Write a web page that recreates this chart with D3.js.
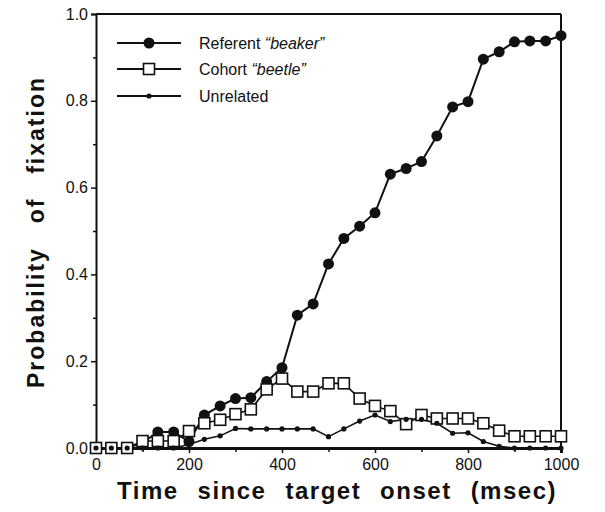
<!DOCTYPE html>
<meta charset="utf-8">
<title>Probability of fixation</title>
<style>
  body { margin: 0; background: #fff; }
  svg text { font-family: "Liberation Sans", Arial, sans-serif; fill: #111; }
</style>
<body>
<script src="https://d3js.org/d3.v7.min.js"></script>
<script>
// time since target onset (msec), one sample per video frame
var times = [0, 33, 67, 100, 133, 167, 200, 233, 267, 300, 333, 367, 400, 433, 467, 500,
             533, 567, 600, 633, 667, 700, 733, 767, 800, 833, 867, 900, 933, 967, 1000];

var referent = [0, 0, 0, 0.012, 0.037, 0.037, 0.015, 0.076, 0.097, 0.114, 0.116, 0.153, 0.185,
                0.306, 0.332, 0.424, 0.483, 0.511, 0.542, 0.631, 0.644, 0.66, 0.719, 0.786,
                0.798, 0.896, 0.913, 0.936, 0.938, 0.938, 0.95];

var cohort = [0, 0, 0, 0.016, 0.016, 0.016, 0.039, 0.057, 0.065, 0.078, 0.089, 0.135, 0.16,
              0.13, 0.13, 0.149, 0.149, 0.114, 0.097, 0.085, 0.055, 0.076, 0.068, 0.068,
              0.068, 0.057, 0.04, 0.027, 0.027, 0.027, 0.027];

var unrelated = [0, 0, 0, 0, 0, 0, 0.008, 0.02, 0.028, 0.045, 0.044, 0.044, 0.044, 0.044,
                 0.044, 0.026, 0.044, 0.062, 0.076, 0.061, 0.066, 0.066, 0.057, 0.034,
                 0.035, 0.015, 0.004, 0, 0, 0, 0];

var xTicks = [0, 200, 400, 600, 800, 1000];
var xMinor = [100, 300, 500, 700, 900];
var yTicks = [0, 0.2, 0.4, 0.6, 0.8, 1.0];
var yMinor = [0.1, 0.3, 0.5, 0.7, 0.9];

var legendNames = ["Referent ", "Cohort ", "Unrelated"];
var legendWords = ["\u201Cbeaker\u201D", "\u201Cbeetle\u201D", ""];

var width = 605, height = 512;
var svg = d3.select("body").append("svg")
    .attr("width", width)
    .attr("height", height);

var x = d3.scaleLinear().domain([0, 1000]).range([96, 561]);
var y = d3.scaleLinear().domain([0, 1]).range([448, 14]);

// frame: top and right
svg.append("line").attr("x1", x(0)).attr("x2", x(1000)).attr("y1", y(1)).attr("y2", y(1))
    .attr("stroke", "#111").attr("stroke-width", 2);
svg.append("line").attr("x1", x(1000)).attr("x2", x(1000)).attr("y1", y(1)).attr("y2", y(0))
    .attr("stroke", "#111").attr("stroke-width", 2);

// axes
var xAxis = svg.append("g").attr("transform", "translate(0," + y(0) + ")")
    .call(d3.axisBottom(x).tickValues(xTicks).tickSize(5).tickPadding(4).tickFormat(d3.format("d")));
svg.append("g").attr("transform", "translate(0," + y(0) + ")")
    .call(d3.axisBottom(x).tickValues(xMinor).tickSize(4).tickFormat(""))
    .call(function(g) { g.select(".domain").remove(); });

var yAxis = svg.append("g").attr("transform", "translate(" + x(0) + ",0)")
    .call(d3.axisLeft(y).tickValues(yTicks).tickSize(5).tickPadding(3).tickFormat(d3.format(".1f")));
svg.append("g").attr("transform", "translate(" + x(0) + ",0)")
    .call(d3.axisLeft(y).tickValues(yMinor).tickSize(3).tickFormat(""))
    .call(function(g) { g.select(".domain").remove(); });

svg.selectAll(".domain").attr("stroke", "#111");
svg.selectAll(".tick line").attr("stroke", "#111").attr("stroke-width", 1.5);
xAxis.select(".domain").attr("stroke-width", 3);
yAxis.select(".domain").attr("stroke-width", 2);
svg.selectAll(".tick text")
    .style("font-family", "'Liberation Sans', Arial, sans-serif")
    .style("font-size", "16px").attr("fill", "#222");
xAxis.selectAll(".tick text").attr("dy", "0.8em");

// widen the gaps between words so a title spans a given width
function spreadWords(t, target) {
  var words = t.text().split(" ").length - 1;
  var natural = t.node().getComputedTextLength();
  t.style("word-spacing", Math.max(0, (target - natural) / words) + "px");
}

// axis titles
var xTitle = svg.append("text")
    .attr("x", 337).attr("y", 499)
    .attr("text-anchor", "middle")
    .style("font-size", "24px").style("font-weight", "bold")
    .style("letter-spacing", "1.5px")
    .text("Time since target onset (msec)");
spreadWords(xTitle, 440);

var yTitle = svg.append("text")
    .attr("transform", "translate(44,232) rotate(-90)")
    .attr("text-anchor", "middle")
    .style("font-size", "23px").style("font-weight", "bold")
    .style("letter-spacing", "2px")
    .text("Probability of fixation");
spreadWords(yTitle, 312);

// series
var line = d3.line()
    .x(function(d, i) { return x(times[i]); })
    .y(function(d) { return y(d); });

svg.append("path").datum(referent).attr("d", line)
    .attr("fill", "none").attr("stroke", "#111").attr("stroke-width", 2);
svg.append("path").datum(cohort).attr("d", line)
    .attr("fill", "none").attr("stroke", "#111").attr("stroke-width", 1.6);
svg.append("path").datum(unrelated).attr("d", line)
    .attr("fill", "none").attr("stroke", "#111").attr("stroke-width", 1.6);

svg.append("g").selectAll("circle").data(referent).join("circle")
    .attr("cx", function(d, i) { return x(times[i]); })
    .attr("cy", function(d) { return y(d); })
    .attr("r", 5.5).attr("fill", "#111");

svg.append("g").selectAll("rect").data(cohort).join("rect")
    .attr("x", function(d, i) { return x(times[i]) - 5.5; })
    .attr("y", function(d) { return y(d) - 5.5; })
    .attr("width", 11).attr("height", 11)
    .attr("fill", "#fff").attr("stroke", "#111").attr("stroke-width", 1.6);

svg.append("g").selectAll("circle").data(unrelated).join("circle")
    .attr("cx", function(d, i) { return x(times[i]); })
    .attr("cy", function(d) { return y(d); })
    .attr("r", 2.6).attr("fill", "#111");

// legend
var legend = svg.append("g");
var rowY = [43, 69, 96];
legendNames.forEach(function(name, i) {
  var g = legend.append("g").attr("transform", "translate(0," + rowY[i] + ")");
  g.append("line").attr("x1", 117).attr("x2", 181).attr("y1", 0).attr("y2", 0)
    .attr("stroke", "#111").attr("stroke-width", 2);
  if (i == 0) {
    g.append("circle").attr("cx", 149).attr("cy", 0).attr("r", 5.5).attr("fill", "#111");
  } else if (i == 1) {
    g.append("rect").attr("x", 143.5).attr("y", -5.5).attr("width", 11).attr("height", 11)
      .attr("fill", "#fff").attr("stroke", "#111").attr("stroke-width", 1.6);
  } else {
    g.append("circle").attr("cx", 149).attr("cy", 0).attr("r", 2.6).attr("fill", "#111");
  }
  var t = g.append("text").attr("x", 199).attr("y", 6).style("font-size", "16px");
  t.append("tspan").text(name);
  if (legendWords[i]) t.append("tspan").style("font-style", "italic").text(legendWords[i]);
});
</script>
</body>
